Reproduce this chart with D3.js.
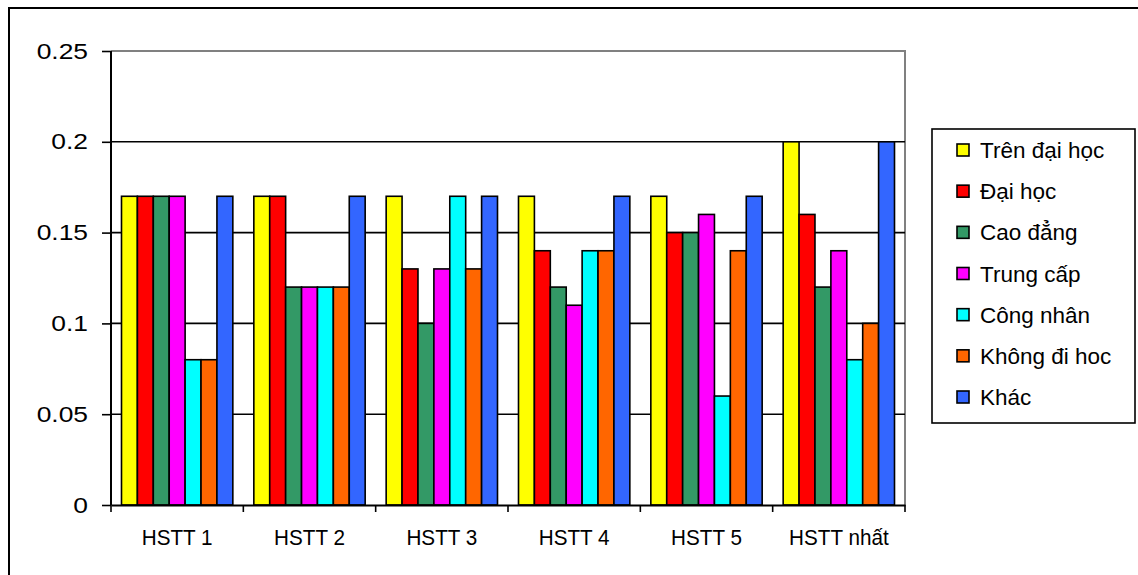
<!DOCTYPE html>
<html>
<head>
<meta charset="utf-8">
<script src="https://cdn.jsdelivr.net/npm/d3@7"></script>
<style>
  html, body { margin: 0; padding: 0; background: #fff; }
  svg { display: block; font-family: "Liberation Sans", Arial, sans-serif; }
</style>
</head>
<body>
<svg id="chart" width="1138" height="575"></svg>
<script>
// Categories along the x axis
const categories = ["HSTT 1", "HSTT 2", "HSTT 3", "HSTT 4", "HSTT 5", "HSTT nhất"];

// Series (education level) names and colours
const seriesNames = ["Trên đại học", "Đại học", "Cao đẳng", "Trung cấp", "Công nhân", "Không đi hoc", "Khác"];
const seriesColors = ["#FFFF00", "#FF0000", "#339966", "#FF00FF", "#00FFFF", "#FF6600", "#3366FF"];

// Values per series, one per category
const trenDaiHoc  = [0.17, 0.17, 0.17, 0.17, 0.17, 0.20];
const daiHoc      = [0.17, 0.17, 0.13, 0.14, 0.15, 0.16];
const caoDang     = [0.17, 0.12, 0.10, 0.12, 0.15, 0.12];
const trungCap    = [0.17, 0.12, 0.13, 0.11, 0.16, 0.14];
const congNhan    = [0.08, 0.12, 0.17, 0.14, 0.06, 0.08];
const khongDiHoc  = [0.08, 0.12, 0.13, 0.14, 0.14, 0.10];
const khac        = [0.17, 0.17, 0.17, 0.17, 0.17, 0.20];

// Y axis ticks
const yTicks = [0, 0.05, 0.1, 0.15, 0.2, 0.25];
const yTickLabels = ["0", "0.05", "0.1", "0.15", "0.2", "0.25"];

const seriesValues = [trenDaiHoc, daiHoc, caoDang, trungCap, congNhan, khongDiHoc, khac];

const svg = d3.select("#chart");

// Outer chart frame (only top and left edges fall inside the canvas)
svg.append("path")
  .attr("d", "M9,580 L9,8 L1145,8")
  .attr("fill", "none").attr("stroke", "#000").attr("stroke-width", 2);

const plot = { left: 111, right: 905, top: 51, bottom: 505 };

const x0 = d3.scaleBand().domain(categories).range([plot.left, plot.right]).paddingInner(0).paddingOuter(0);
const x1 = d3.scaleBand().domain(seriesNames).range([0, x0.bandwidth()]).paddingInner(0).paddingOuter(0.66);
const y = d3.scaleLinear().domain([0, 0.25]).range([plot.bottom, plot.top]);

// Plot area border (grey top and right)
svg.append("path")
  .attr("d", `M${plot.left},${plot.top} L${plot.right},${plot.top} L${plot.right},${plot.bottom}`)
  .attr("fill", "none").attr("stroke", "#808080").attr("stroke-width", 2);

// Horizontal gridlines
svg.append("g").selectAll("line")
  .data(yTicks.filter(t => t > 0 && t < 0.25))
  .join("line")
  .attr("x1", plot.left).attr("x2", plot.right)
  .attr("y1", d => y(d)).attr("y2", d => y(d))
  .attr("stroke", "#000").attr("stroke-width", 1.6);

// Bars
const groups = svg.append("g").selectAll("g")
  .data(categories)
  .join("g")
  .attr("transform", d => `translate(${x0(d)},0)`);

groups.selectAll("rect")
  .data((c, ci) => seriesNames.map((s, si) => ({ s, si, v: seriesValues[si][ci] })))
  .join("rect")
  .attr("x", d => x1(d.s))
  .attr("width", x1.bandwidth())
  .attr("y", d => y(d.v))
  .attr("height", d => y(0) - y(d.v))
  .attr("fill", d => seriesColors[d.si])
  .attr("stroke", "#000").attr("stroke-width", 1.6);

// Y axis
const yAxis = d3.axisLeft(y).tickValues(yTicks).tickSize(9)
  .tickFormat((d, i) => yTickLabels[i]);
const gy = svg.append("g").attr("transform", `translate(${plot.left},0)`).call(yAxis);
gy.select(".domain").attr("stroke", "#000").attr("stroke-width", 2).attr("d", `M0,${plot.top}V${plot.bottom}`);
gy.selectAll(".tick line").attr("stroke", "#000").attr("stroke-width", 1.6);
gy.selectAll(".tick text")
  .attr("x", 0)
  .attr("transform", "translate(-23,0) scale(1.2,1)")
  .attr("font-size", 22)
  .attr("font-family", "Liberation Sans, Arial, sans-serif")
  .attr("fill", "#000");

// X axis
const xAxis = d3.axisBottom(x0).tickSize(0).tickSizeOuter(0);
const gx = svg.append("g").attr("transform", `translate(0,${plot.bottom})`).call(xAxis);
gx.select(".domain").attr("stroke", "#000").attr("stroke-width", 2);
gx.selectAll(".tick text")
  .attr("y", 40)
  .attr("dy", 0)
  .attr("transform", "scale(0.94,1)")
  .attr("font-size", 22)
  .attr("font-family", "Liberation Sans, Arial, sans-serif")
  .attr("fill", "#000");

// Category separator ticks
svg.append("g").selectAll("line")
  .data(categories.map(c => x0(c)).concat([plot.right]))
  .join("line")
  .attr("x1", d => d).attr("x2", d => d)
  .attr("y1", plot.bottom).attr("y2", plot.bottom + 7)
  .attr("stroke", "#000").attr("stroke-width", 1.6);

// Legend
const legend = svg.append("g");
legend.append("rect")
  .attr("x", 932).attr("y", 129).attr("width", 203).attr("height", 294)
  .attr("fill", "#fff").attr("stroke", "#000").attr("stroke-width", 1.6);

const legendY = d3.scalePoint().domain(seriesNames).range([150, 397]);
const items = legend.selectAll("g.item")
  .data(seriesNames)
  .join("g").attr("class", "item")
  .attr("transform", d => `translate(0,${legendY(d)})`);
items.append("rect")
  .attr("x", 957).attr("y", -6).attr("width", 12).attr("height", 12)
  .attr("fill", (d, i) => seriesColors[i])
  .attr("stroke", "#000").attr("stroke-width", 1.6);
items.append("text")
  .attr("x", 980).attr("y", 8)
  .attr("font-size", 22.5)
  .attr("fill", "#000")
  .text(d => d);
</script>
</body>
</html>
